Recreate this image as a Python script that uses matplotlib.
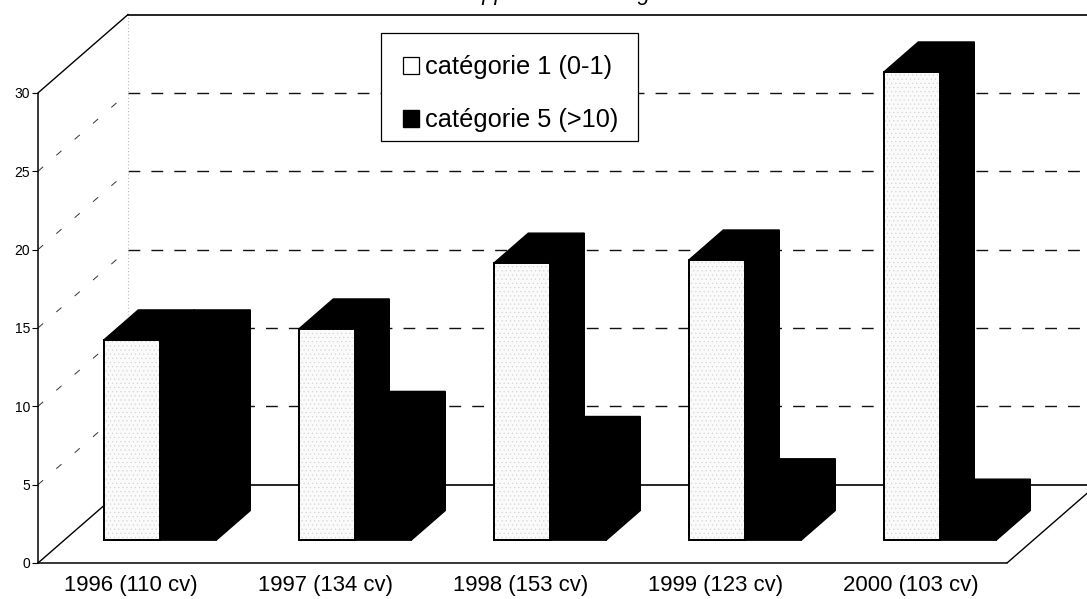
import matplotlib
matplotlib.use("Agg")
import matplotlib.pyplot as plt
from matplotlib.patches import Polygon, Patch, Rectangle
from matplotlib.legend_handler import HandlerPatch
from matplotlib.transforms import ScaledTranslation

plt.rcParams['font.family'] = ['Liberation Sans', 'DejaVu Sans']
plt.rcParams['hatch.linewidth'] = 0.3

categories = ["1996 (110 cv)", "1997 (134 cv)", "1998 (153 cv)", "1999 (123 cv)", "2000 (103 cv)"]
cat1 = [12.8, 13.5, 17.7, 17.9, 29.9]
cat5 = [12.8, 7.6, 6.0, 3.3, 2.0]
series_names = ["catégorie 1 (0-1)", "catégorie 5 (>10)"]
yticks = [0, 5, 10, 15, 20, 25, 30]
title = "Nombre d'appareils en catégorie"

W, H = 1087, 599
DX, DY = 90 / 195, 5.0      # shift of the back wall, in data units
D0, D1 = 0.29, 0.67         # depth of the front and back of the bars
BW = 56 / 195               # bar width

fig = plt.figure(figsize=(W / 100, H / 100), dpi=100, facecolor='white')
ax = fig.add_axes([38 / W, (H - 563) / H, (W - 38) / W, 563 / H])
xmin, xmax = (38 - 134) / 195, (W - 134) / 195
ax.set_xlim(xmin, xmax)
ax.set_ylim(0, 563 / 15.67)
ax.set_facecolor('white')
floor_end = xmin + (1007 - 38) / 195


def proj(x, v, d):
    return x + DX * d, v + DY * d


def box(x0, x1, v, front_color, hatch=None, zbase=3):
    """Front, side and top faces of one bar."""
    front = [proj(x0, 0, D0), proj(x1, 0, D0), proj(x1, v, D0), proj(x0, v, D0)]
    side = [proj(x1, 0, D0), proj(x1, 0, D1), proj(x1, v, D1), proj(x1, v, D0)]
    top = [proj(x0, v, D0), proj(x1, v, D0), proj(x1, v, D1), proj(x0, v, D1)]
    ax.add_patch(Polygon(side, closed=True, fc='black', ec='black', lw=1, zorder=zbase))
    ax.add_patch(Polygon(top, closed=True, fc='black', ec='black', lw=1, zorder=zbase))
    ax.add_patch(Polygon(front, closed=True, fc=front_color, ec='black', lw=1.3, zorder=zbase + 0.1))
    if hatch:
        ax.add_patch(Polygon(front, closed=True, fc='none', ec='#cfcfcf', lw=0, hatch=hatch,
                             zorder=zbase + 0.2))
        ax.add_patch(Polygon(front, closed=True, fc='none', ec='black', lw=1.3, zorder=zbase + 0.3))


# walls: back gridlines, back vertical, side diagonals
bx0, _ = proj(xmin, 0, 1)
for t in yticks:
    _, yb = proj(0, t, 1)
    if t == 0 or t == 30:
        ax.plot([bx0, xmax], [yb, yb], color='black', lw=1.2, zorder=1)
        ax.plot([xmin, bx0], [t, yb], color='black', lw=1.0, zorder=1)
    else:
        ax.plot([bx0, xmax], [yb, yb], color='#111111', lw=1.0, dashes=(8.5, 8), zorder=1)
        ax.plot([xmin, bx0], [t, yb], color='#333333', lw=0.7, dashes=(7, 18), zorder=1)
ax.plot([bx0, bx0], [DY, 30 + DY], color='#bbbbbb', lw=0.8, ls=(0, (1, 2)), zorder=1)
ax.plot([floor_end, xmax], [0, (W - 1007) / 90 * DY], color='black', lw=1.0, zorder=1)

# bars
for i, (a, b) in enumerate(zip(cat1, cat5)):
    box(i, i + BW, b, 'black', zbase=3)
    box(i - BW, i, a, '#fafafa', hatch='....', zbase=4)

# axes
for s in ('top', 'right'):
    ax.spines[s].set_visible(False)
ax.spines['left'].set_bounds(0, 30)
ax.spines['bottom'].set_bounds(xmin, floor_end)
ax.spines['left'].set_linewidth(1.1)
ax.spines['bottom'].set_linewidth(1.1)
ax.set_yticks(yticks)
ax.set_xticks(range(len(categories)))
ax.set_xticklabels(categories, fontsize=15.9)
ax.tick_params(axis='x', length=0, pad=8.5)
ax.tick_params(axis='y', length=4, width=0.8, labelsize=10, pad=1.5)
shift = ScaledTranslation(-3 / 100, 0, fig.dpi_scale_trans)
for lab in ax.get_xticklabels():
    lab.set_transform(lab.get_transform() + shift)


def right_patch(legend, orig_handle, xdescent, ydescent, width, height, fontsize):
    side = 0.63 * fontsize
    return Rectangle((width - side - 1.4 - xdescent, -ydescent), side, height)


# legend frame is its own rectangle so the entries can sit low in it, as in the reference
ax.add_patch(Rectangle((381 / W, 1 - 141 / H), 257 / W, 108 / H, transform=fig.transFigure,
                       fc='white', ec='black', lw=0.9, zorder=5.5, clip_on=False))
handles = [Patch(fc='white', ec='black', lw=0.9), Patch(fc='black', ec='black')]
leg = ax.legend(handles, series_names, loc='upper left',
                bbox_to_anchor=(381 / W, 1 - 40 / H), bbox_transform=fig.transFigure,
                fontsize=18.3, frameon=False,
                handlelength=0.97, handleheight=0.63, handletextpad=0.15, labelspacing=1.15,
                borderpad=0.6, borderaxespad=0,
                handler_map={Patch: HandlerPatch(patch_func=right_patch)})
leg.set_zorder(6)

fig.text(528 / W, 1 + 0 / H, title, ha='center', va='baseline',
         fontsize=15.8, style='italic')

fig.savefig("out.png", dpi=100)
